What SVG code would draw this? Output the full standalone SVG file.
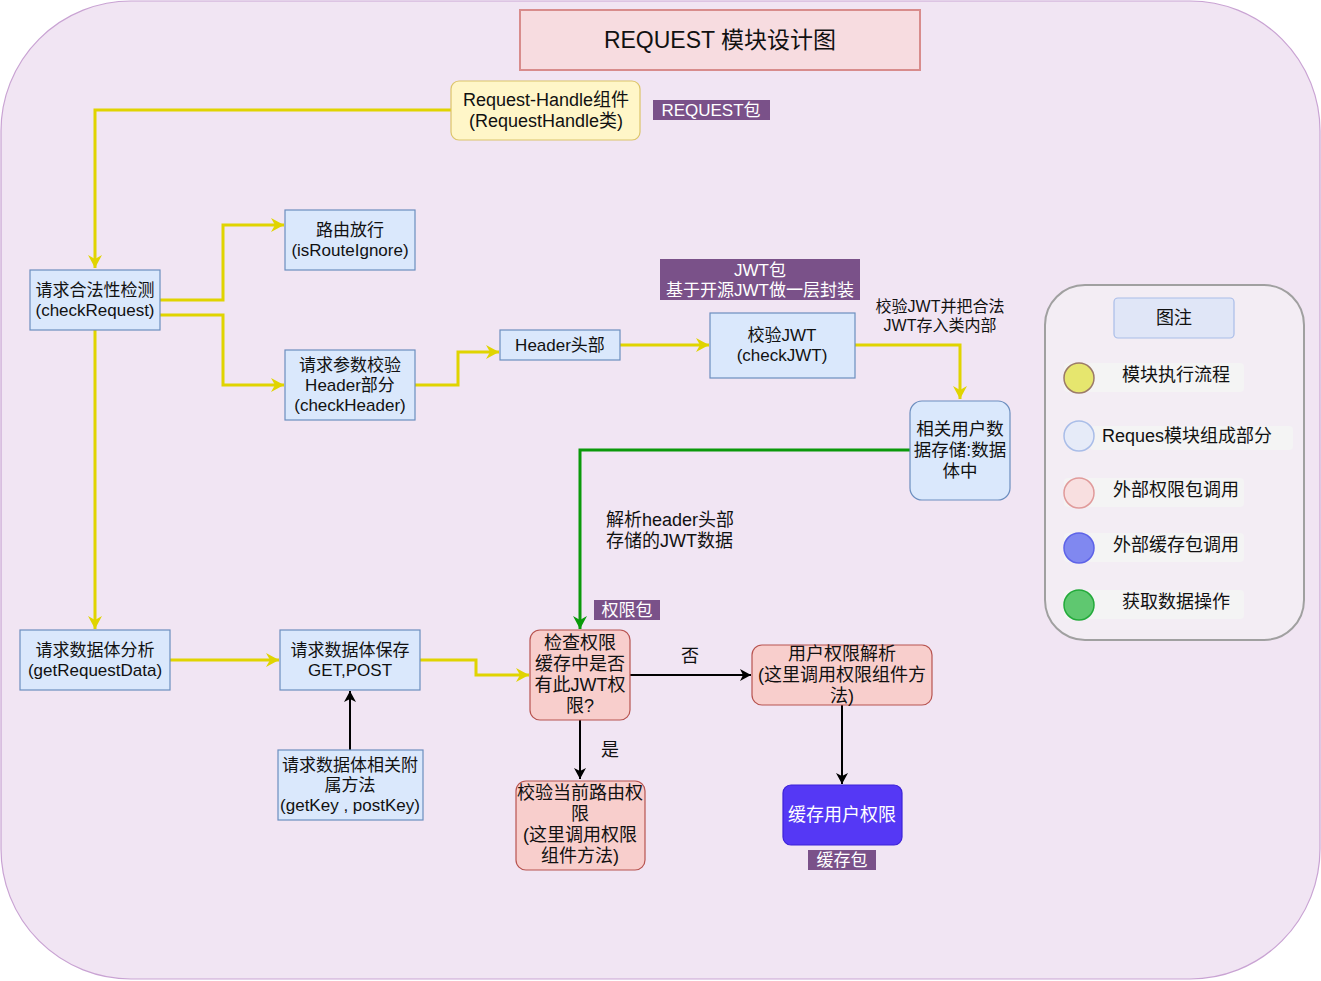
<svg xmlns="http://www.w3.org/2000/svg" width="1321" height="981" viewBox="0 0 1321 981">
<style>
text{font-family:"Liberation Sans","Noto Sans CJK SC",sans-serif;font-size:17px;fill:#111;text-anchor:middle;dominant-baseline:central}
.blue{fill:#dae8fc;stroke:#6c8ebf;stroke-width:1.2}
.pink{fill:#f8cecc;stroke:#b85450;stroke-width:1.2}
.tag{fill:#7a5189}
.tagt{fill:#fff}
.y{fill:none;stroke:#e0d400;stroke-width:3}
.k{fill:none;stroke:#000;stroke-width:2}
.g{fill:none;stroke:#0a990a;stroke-width:3}
.lbl{font-size:16px}
.big{font-size:18px}
</style>
<defs>
<marker id="ay" markerUnits="userSpaceOnUse" markerWidth="14" markerHeight="14" refX="13" refY="7" orient="auto"><path d="M0,0 L13,7 L0,14 L4,7 Z" fill="#e0d400"/></marker>
<marker id="ak" markerUnits="userSpaceOnUse" markerWidth="12" markerHeight="12" refX="11" refY="6" orient="auto"><path d="M0,0 L11,6 L0,12 L3,6 Z" fill="#000"/></marker>
<marker id="ag" markerUnits="userSpaceOnUse" markerWidth="14" markerHeight="14" refX="13" refY="7" orient="auto"><path d="M0,0 L13,7 L0,14 L4,7 Z" fill="#0a990a"/></marker>
</defs>
<rect x="1" y="1" width="1319" height="978" rx="130" ry="130" fill="#f1e5f3" stroke="#c9a3d3" stroke-width="1.2"/>

<g id="connectors">
<path class="y" d="M451,110 H95 V268" marker-end="url(#ay)"/>
<path class="y" d="M160,300 H223 V225 H284" marker-end="url(#ay)"/>
<path class="y" d="M160,315 H223 V385 H284" marker-end="url(#ay)"/>
<path class="y" d="M415,385 H458 V352 H499" marker-end="url(#ay)"/>
<path class="y" d="M620,345 H709" marker-end="url(#ay)"/>
<path class="y" d="M855,345 H960 V399" marker-end="url(#ay)"/>
<path class="g" d="M910,450 H580 V629" marker-end="url(#ag)"/>
<path class="y" d="M95,330 V629" marker-end="url(#ay)"/>
<path class="y" d="M170,660 H279" marker-end="url(#ay)"/>
<path class="y" d="M420,660 H476 V675 H529" marker-end="url(#ay)"/>
<path class="k" d="M350,750 V691" marker-end="url(#ak)"/>
<path class="k" d="M630,675 H751" marker-end="url(#ak)"/>
<path class="k" d="M580,720 V779" marker-end="url(#ak)"/>
<path class="k" d="M842,705 V784" marker-end="url(#ak)"/>
<text x="940" y="306" class="lbl">校验JWT并把合法</text>
<text x="940" y="325" class="lbl">JWT存入类内部</text>
<text x="606" y="520" class="big" style="text-anchor:start">解析header头部</text>
<text x="606" y="541" class="big" style="text-anchor:start">存储的JWT数据</text>
<text x="690" y="656" class="big">否</text>
<text x="610" y="750" class="big">是</text>
</g>

<g id="title">
<rect x="520" y="10" width="400" height="60" fill="#f7dce0" stroke="#d88c8c" stroke-width="2"/>
<text x="720" y="40" style="font-size:23px">REQUEST 模块设计图</text>
</g>

<g id="request-handle">
<rect x="451" y="81" width="189" height="59" rx="8" fill="#fff6c8" stroke="#dcc46a" stroke-width="1.2"/>
<text x="546" y="100" class="big">Request-Handle组件</text>
<text x="546" y="121" class="big">(RequestHandle类)</text>
</g>
<g id="tag-request">
<rect class="tag" x="653" y="100" width="117" height="20"/>
<text class="tagt" x="711" y="110">REQUEST包</text>
</g>

<g id="check-request">
<rect class="blue" x="30" y="270" width="130" height="60"/>
<text x="95" y="290">请求合法性检测</text>
<text x="95" y="310">(checkRequest)</text>
</g>
<g id="route-ignore">
<rect class="blue" x="285" y="210" width="130" height="60"/>
<text x="350" y="230">路由放行</text>
<text x="350" y="250">(isRouteIgnore)</text>
</g>
<g id="check-header">
<rect class="blue" x="285" y="350" width="130" height="70"/>
<text x="350" y="365">请求参数校验</text>
<text x="350" y="385">Header部分</text>
<text x="350" y="405">(checkHeader)</text>
</g>
<g id="header">
<rect class="blue" x="500" y="330" width="120" height="30"/>
<text x="560" y="345">Header头部</text>
</g>
<g id="tag-jwt">
<rect class="tag" x="660" y="259" width="200" height="41"/>
<text class="tagt" x="760" y="270">JWT包</text>
<text class="tagt" x="760" y="290">基于开源JWT做一层封装</text>
</g>
<g id="check-jwt">
<rect class="blue" x="710" y="313" width="145" height="65"/>
<text x="782" y="335">校验JWT</text>
<text x="782" y="355">(checkJWT)</text>
</g>
<g id="user-data">
<rect class="blue" x="910" y="401" width="100" height="99" rx="12"/>
<text x="960" y="429" style="font-size:17.5px">相关用户数</text>
<text x="960" y="450" style="font-size:17.5px">据存储:数据</text>
<text x="960" y="471" style="font-size:17.5px">体中</text>
</g>

<g id="get-request-data">
<rect class="blue" x="20" y="630" width="150" height="60"/>
<text x="95" y="650">请求数据体分析</text>
<text x="95" y="670">(getRequestData)</text>
</g>
<g id="save-data">
<rect class="blue" x="280" y="630" width="140" height="60"/>
<text x="350" y="650">请求数据体保存</text>
<text x="350" y="670">GET,POST</text>
</g>
<g id="data-methods">
<rect class="blue" x="278" y="750" width="145" height="70"/>
<text x="350" y="765">请求数据体相关附</text>
<text x="350" y="785">属方法</text>
<text x="350" y="805">(getKey , postKey)</text>
</g>

<g id="tag-auth">
<rect class="tag" x="594" y="600" width="66" height="20"/>
<text class="tagt" x="627" y="610">权限包</text>
</g>
<g id="check-cache">
<rect class="pink" x="530" y="630" width="100" height="90" rx="10"/>
<text x="580" y="643" class="big">检查权限</text>
<text x="580" y="664" class="big">缓存中是否</text>
<text x="580" y="685" class="big">有此JWT权</text>
<text x="580" y="706" class="big">限?</text>
</g>
<g id="parse-auth">
<rect class="pink" x="752" y="645" width="180" height="60" rx="10"/>
<text x="842" y="654" class="big">用户权限解析</text>
<text x="842" y="675" class="big">(这里调用权限组件方</text>
<text x="842" y="696" class="big">法)</text>
</g>
<g id="check-route">
<rect class="pink" x="516" y="781" width="129" height="89" rx="10"/>
<text x="580" y="793" class="big">校验当前路由权</text>
<text x="580" y="814" class="big">限</text>
<text x="580" y="835" class="big">(这里调用权限</text>
<text x="580" y="856" class="big">组件方法)</text>
</g>
<g id="cache-auth">
<rect x="783" y="785" width="119" height="60" rx="8" fill="#5538f5" stroke="#3d22d8" stroke-width="1.2"/>
<text x="842" y="815" class="big" style="fill:#fff">缓存用户权限</text>
</g>
<g id="tag-cache">
<rect class="tag" x="808" y="850" width="68" height="20"/>
<text class="tagt" x="842" y="860">缓存包</text>
</g>

<g id="legend">
<rect x="1045" y="285" width="259" height="355" rx="40" fill="#f3edf4" stroke="#a0a0a0" stroke-width="2"/>
<rect x="1114" y="298" width="120" height="40" rx="4" fill="#e0e6f7" stroke="#a9bde8" stroke-width="1.2"/>
<text x="1174" y="318" class="big">图注</text>
<rect x="1064" y="363" width="180" height="29" rx="4" fill="#f4f4f4"/>
<circle cx="1079" cy="378" r="15" fill="#e6e66e" stroke="#9b7a68" stroke-width="1.5"/>
<text x="1176" y="375" class="big">模块执行流程</text>
<rect x="1090" y="426" width="203" height="24" rx="4" fill="#f4f4f4"/>
<circle cx="1079" cy="436" r="15" fill="#e6ebf8" stroke="#a9bde8" stroke-width="1.5"/>
<text x="1187" y="436" class="big">Reques模块组成部分</text>
<rect x="1064" y="478" width="180" height="29" rx="4" fill="#f4f4f4"/>
<circle cx="1079" cy="493" r="15" fill="#f8dfe0" stroke="#e09a9a" stroke-width="1.5"/>
<text x="1176" y="490" class="big">外部权限包调用</text>
<rect x="1064" y="533" width="180" height="29" rx="4" fill="#f4f4f4"/>
<circle cx="1079" cy="548" r="15" fill="#8088f0" stroke="#5d62e8" stroke-width="1.5"/>
<text x="1176" y="545" class="big">外部缓存包调用</text>
<rect x="1064" y="590" width="180" height="29" rx="4" fill="#f4f4f4"/>
<circle cx="1079" cy="605" r="15" fill="#5fc870" stroke="#22aa3a" stroke-width="1.5"/>
<text x="1176" y="602" class="big">获取数据操作</text>
</g>
</svg>
